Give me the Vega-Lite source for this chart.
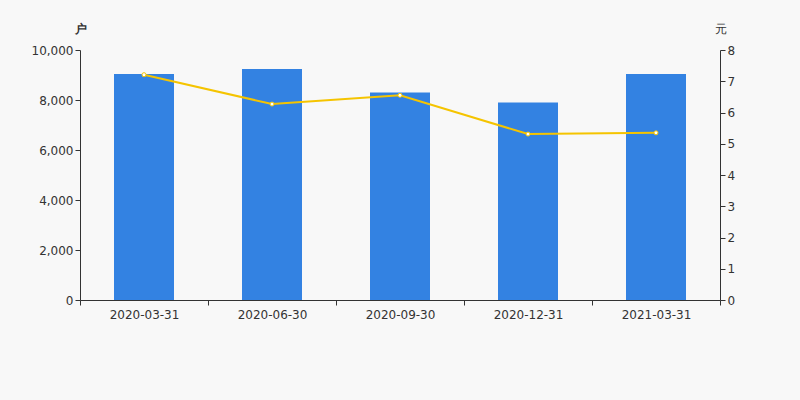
{
  "$schema": "https://vega.github.io/schema/vega-lite/v6.json",
  "width": 640,
  "height": 250,
  "autosize": {"type": "none"},
  "padding": {"left": 80, "top": 50, "right": 80, "bottom": 100},
  "background": "#f8f8f8",
  "config": {"view": {"stroke": null}, "font": "DejaVu Sans"},
  "data": {"values": [
    {"date": "2020-03-31", "households": 9040, "price": 7.21},
    {"date": "2020-06-30", "households": 9240, "price": 6.27},
    {"date": "2020-09-30", "households": 8300, "price": 6.55},
    {"date": "2020-12-31", "households": 7905, "price": 5.31},
    {"date": "2021-03-31", "households": 9040, "price": 5.35}
  ]},
  "encoding": {
    "x": {
      "field": "date", "type": "nominal", "sort": null,
      "scale": {"paddingInner": 0, "paddingOuter": 0},
      "axis": {"title": null, "labelAngle": 0, "domainColor": "#333", "tickColor": "#333", "tickBand": "extent", "labelColor": "#333", "labelFontSize": 12, "labelPadding": 4, "tickSize": 5}
    }
  },
  "layer": [
    {
      "mark": {"type": "bar", "color": "#3382e2", "width": 60},
      "encoding": {
        "y": {
          "field": "households", "type": "quantitative",
          "scale": {"domain": [0, 10000]},
          "axis": {"title": "户", "titleAngle": 0, "titleX": 0, "titleY": -15, "titleAlign": "center", "titleFontSize": 12, "titleFontWeight": "bold", "titleColor": "#333", "grid": false, "values": [0, 2000, 4000, 6000, 8000, 10000], "format": ",d", "labelOverlap": false, "domainColor": "#333", "tickColor": "#333", "labelColor": "#333", "labelFontSize": 12, "tickSize": 5}
        }
      }
    },
    {
      "mark": {"type": "line", "color": "#f5c400", "strokeWidth": 2, "point": {"filled": true, "fill": "#ffffff", "stroke": "#f5c400", "strokeWidth": 1, "size": 16}},
      "encoding": {
        "y": {
          "field": "price", "type": "quantitative",
          "scale": {"domain": [0, 8]},
          "axis": {"orient": "right", "title": "元", "titleAngle": 0, "titleX": 0, "titleY": -15, "titleAlign": "center", "titleFontSize": 12, "titleFontWeight": "normal", "titleColor": "#333", "grid": false, "values": [0, 1, 2, 3, 4, 5, 6, 7, 8], "domainColor": "#333", "tickColor": "#333", "labelColor": "#333", "labelFontSize": 12, "tickSize": 5}
        }
      }
    }
  ],
  "resolve": {"scale": {"y": "independent"}}
}
